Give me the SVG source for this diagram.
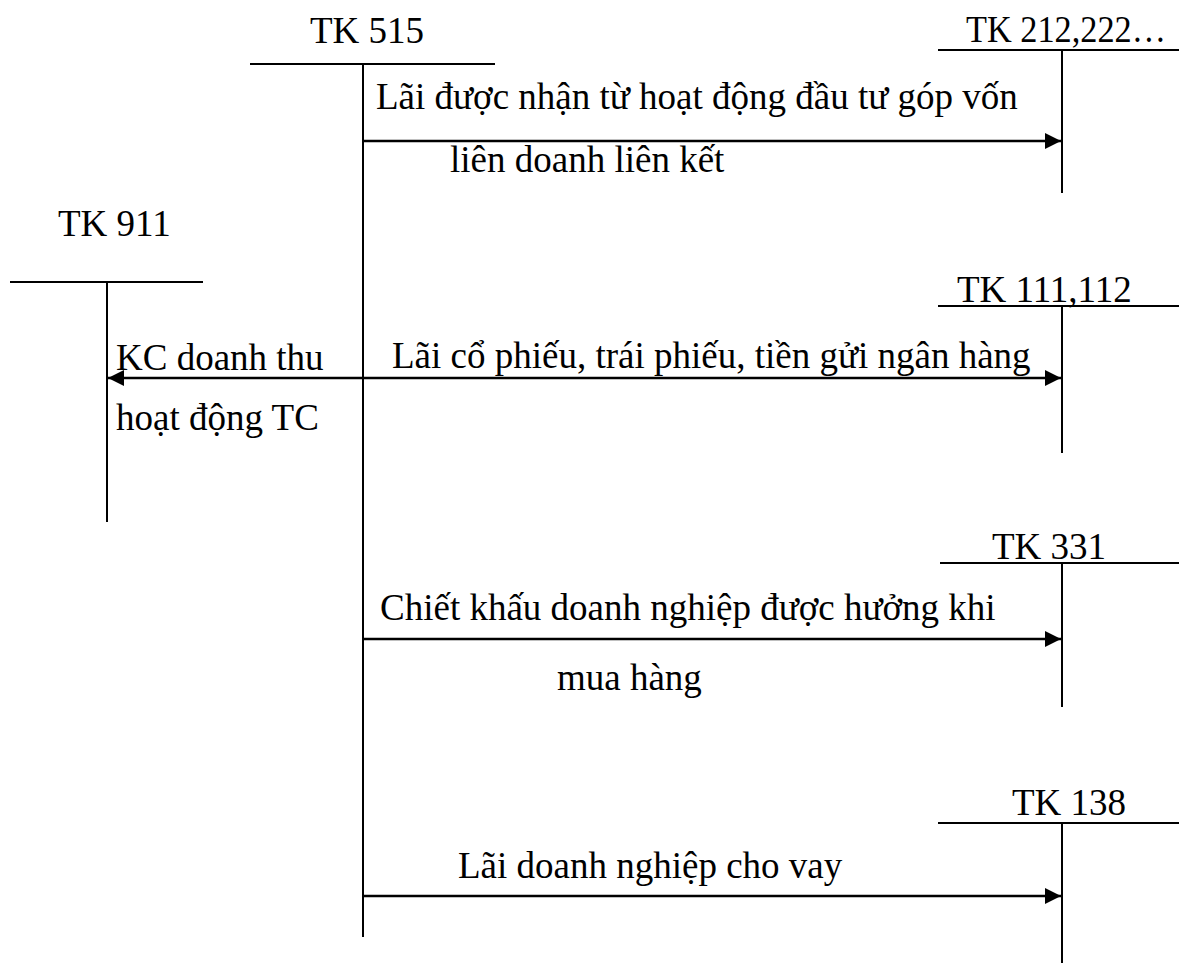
<svg xmlns="http://www.w3.org/2000/svg" width="1179" height="963" viewBox="0 0 1179 963" font-family="'Liberation Serif', 'Times New Roman', serif">
<style>
text{font-family:'Liberation Serif','Times New Roman',serif;font-size:37px;fill:#000}
.ln{stroke:#000;stroke-width:2;fill:none}
.ar{stroke:#000;stroke-width:2.5;fill:none;marker-end:url(#ah)}
</style>
<defs>
<marker id="ah" markerUnits="userSpaceOnUse" markerWidth="17" markerHeight="16" refX="16" refY="8" orient="auto">
<path d="M0,0 L16,8 L0,16 Z" fill="#000"/>
</marker>
</defs>
<rect width="1179" height="963" fill="#fff"/>
<g id="tk515">
<text x="310" y="43">TK 515</text>
<line class="ln" x1="250" y1="64" x2="495" y2="64"/>
<line class="ln" x1="363" y1="64" x2="363" y2="937"/>
</g>
<g id="tk212">
<text x="966" y="42" textLength="200" lengthAdjust="spacingAndGlyphs">TK 212,222…</text>
<line class="ln" x1="938" y1="50" x2="1179" y2="50"/>
<line class="ln" x1="1062" y1="50" x2="1062" y2="193"/>
</g>
<g id="tk911">
<text x="58" y="236">TK 911</text>
<line class="ln" x1="10" y1="282" x2="203" y2="282"/>
<line class="ln" x1="107" y1="282" x2="107" y2="522"/>
</g>
<g id="tk111">
<text x="957" y="302">TK 111,112</text>
<line class="ln" x1="938" y1="306" x2="1179" y2="306"/>
<line class="ln" x1="1062" y1="306" x2="1062" y2="453"/>
</g>
<g id="tk331">
<text x="992" y="559">TK 331</text>
<line class="ln" x1="940" y1="563" x2="1179" y2="563"/>
<line class="ln" x1="1062" y1="563" x2="1062" y2="707"/>
</g>
<g id="tk138">
<text x="1012" y="815">TK 138</text>
<line class="ln" x1="938" y1="823" x2="1179" y2="823"/>
<line class="ln" x1="1062" y1="823" x2="1062" y2="963"/>
</g>
<g id="connectors">
<line class="ar" x1="363" y1="141" x2="1061" y2="141"/>
<line class="ar" x1="363" y1="378" x2="1061" y2="378"/>
<line class="ar" x1="363" y1="378" x2="108" y2="378"/>
<line class="ar" x1="363" y1="639" x2="1061" y2="639"/>
<line class="ar" x1="363" y1="896" x2="1061" y2="896"/>
<text x="376" y="109">Lãi được nhận từ hoạt động đầu tư góp vốn</text>
<text x="450" y="172">liên doanh liên kết</text>
<text x="116" y="370">KC doanh thu</text>
<text x="116" y="430">hoạt động TC</text>
<text x="392" y="368">Lãi cổ phiếu, trái phiếu, tiền gửi ngân hàng</text>
<text x="380" y="620">Chiết khấu doanh nghiệp được hưởng khi</text>
<text x="557" y="690">mua hàng</text>
<text x="458" y="878">Lãi doanh nghiệp cho vay</text>
</g>
</svg>
